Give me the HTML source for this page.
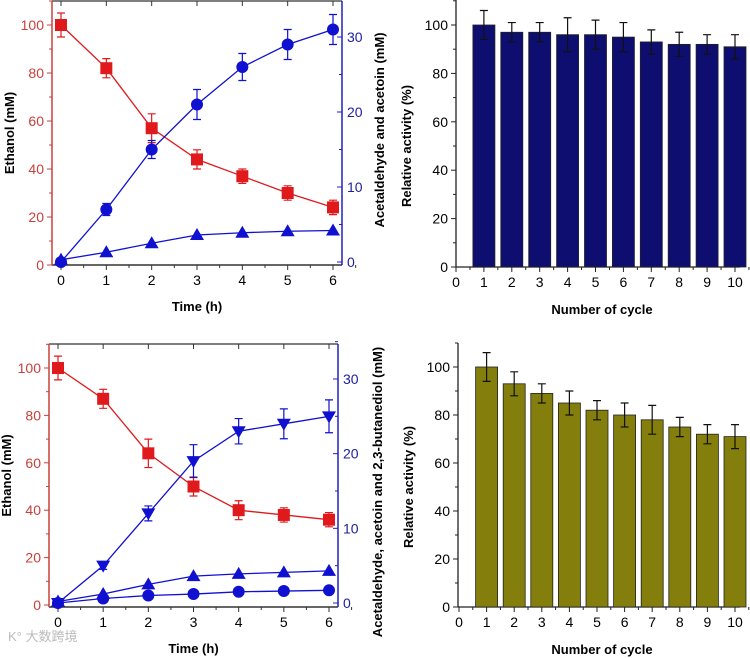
<!DOCTYPE html>
<html><head><meta charset="utf-8"><style>
body{margin:0;background:#fff;width:750px;height:658px;overflow:hidden}
svg{display:block;font-family:"Liberation Sans",Arial,sans-serif}
</style></head><body>
<svg id="s" width="750" height="658" viewBox="0 0 750 658">
<text x="-130" y="384" transform="rotate(-90)" font-size="13" font-weight="bold" text-anchor="middle">Acetaldehyde and acetoin (mM)</text>
<text x="-492" y="382" transform="rotate(-90)" font-size="13" font-weight="bold" text-anchor="middle">Acetaldehyde, acetoin and 2,3-butanediol (mM)</text>
<text x="8" y="641" font-size="13" fill="#bbb">K° 大数跨境</text>
</svg>
<script>
const times=[0,1,2,3,4,5,6];
const ethA=[100,82,57,44,37,30,24];
const ethAErr=[5,4,6,4,3,3,3];
const circA=[0,7,15,21,26,29,31];
const circAErr=[0.5,0.8,1.2,2,1.8,2,2];
const triA=[0.3,1.3,2.5,3.6,3.9,4.1,4.2];
const ethB=[100,87,64,50,40,38,36];
const ethBErr=[5,4,6,4,4,3,3];
const downB=[0,5,12,19,23,24,25];
const downBErr=[0.3,0.5,1,2.2,1.7,2,2.2];
const triB=[0.2,1.2,2.5,3.6,3.9,4.1,4.3];
const circB=[0,0.6,1,1.2,1.5,1.6,1.7];
const cycles=[1,2,3,4,5,6,7,8,9,10];
const actA=[100,97,97,96,96,95,93,92,92,91];
const actAErr=[6,4,4,7,6,6,5,5,4,5];
const actB=[100,93,89,85,82,80,78,75,72,71];
const actBErr=[6,5,4,5,4,5,6,4,4,5];

const S=document.getElementById('s');const NS='http://www.w3.org/2000/svg';
function el(t,a,txt){const e=document.createElementNS(NS,t);for(const k in a)e.setAttribute(k,a[k]);if(txt!==undefined)e.textContent=txt;S.appendChild(e);return e;}
const RED='#e0191c',BLUE='#1010d0';

function linePanel(o){
  const X=v=>o.x0+v*(o.x6-o.x0)/6, YL=v=>o.yl0-v*(o.yl0-o.yl100)/100, YR=v=>o.yr0-v*(o.yr0-o.yr30)/30;
  let f=el('line',{x1:o.L,y1:o.T,x2:o.R,y2:o.T,stroke:'#333','stroke-width':1.2});
  
  let b=el('line',{x1:o.L,y1:o.B,x2:o.R,y2:o.B,stroke:'#333','stroke-width':1.5});
  
  let l=el('line',{x1:o.L,y1:o.T,x2:o.L,y2:o.B,stroke:'#c8403c','stroke-width':1.5});
  
  let r=el('line',{x1:o.R,y1:o.T,x2:o.R,y2:o.B,stroke:'#2020c0','stroke-width':1.5});
  
  times.forEach(t=>{el('line',{x1:X(t),y1:o.B,x2:X(t),y2:o.B+5,stroke:'#333'});el('line',{x1:X(t),y1:o.T,x2:X(t),y2:o.T+5,stroke:'#333'});
    el('line',{x1:X(t+0.5),y1:o.B,x2:X(t+0.5),y2:o.B+3,stroke:'#333'});
    let tx=el('text',{x:X(t),y:o.B+20,'font-size':14,'text-anchor':'middle'},t);});
  for(let v=0;v<=100;v+=20){el('line',{x1:o.L-5,y1:YL(v),x2:o.L,y2:YL(v),stroke:'#c8403c'});el('line',{x1:o.L-3,y1:YL(v+10),x2:o.L,y2:YL(v+10),stroke:'#c8403c'});
    let tx=el('text',{x:o.L-8,y:YL(v)+5,'font-size':14,'text-anchor':'end',fill:'#c8403c'},v);}
  for(let v=0;v<=30;v+=10){el('line',{x1:o.R,y1:YR(v),x2:o.R-5,y2:YR(v),stroke:'#2020c0'});if(v<30||o.yr30-o.T>20)el('line',{x1:o.R,y1:YR(v+5),x2:o.R-3,y2:YR(v+5),stroke:'#2020c0'});
    let tx=el('text',{x:o.R+5,y:YR(v)+5,'font-size':14,fill:'#2020a0'},v);}
  let xt=el('text',{x:(o.L+o.R)/2,y:o.B+46,'font-size':13,'font-weight':'bold','text-anchor':'middle'},'Time (h)');
  
  let yt=el('text',{x:-(o.T+o.B)/2,y:o.L-38,transform:'rotate(-90)','font-size':13,'font-weight':'bold','text-anchor':'middle'},'Ethanol (mM)');
  
  o.series.forEach(s=>{const Y=s.left?YL:YR;
    let p=el('polyline',{points:s.v.map((v,i)=>X(times[i])+','+Y(v)).join(' '),fill:'none',stroke:s.c,'stroke-width':1.3});
    
    s.v.forEach((v,i)=>{const x=X(times[i]),y=Y(v);
      if(s.e){const e=s.e[i],y1=Y(v+e),y2=Y(v-e);el('path',{d:`M${x},${y1}V${y2}M${x-4},${y1}H${x+4}M${x-4},${y2}H${x+4}`,stroke:s.c,'stroke-width':1.2,fill:'none'});}
      let m;
      if(s.m==='sq')m=el('rect',{x:x-6,y:y-6,width:12,height:12,fill:s.c});
      else if(s.m==='ci')m=el('circle',{cx:x,cy:y,r:6,fill:s.c});
      else if(s.m==='up')m=el('polygon',{points:`${x},${y-7} ${x-7},${y+5} ${x+7},${y+5}`,fill:s.c});
      else m=el('polygon',{points:`${x},${y+7} ${x-7},${y-5} ${x+7},${y-5}`,fill:s.c});
      });});
}
linePanel({L:52,R:342,T:1,B:265,x0:61,x6:333,yl0:265,yl100:25,yr0:262,yr30:37,series:[
 {v:ethA,e:ethAErr,c:RED,m:'sq',left:1,name:'ethanol'},{v:circA,e:circAErr,c:BLUE,m:'ci',name:'acetaldehyde'},{v:triA,c:BLUE,m:'up',name:'acetoin'}]});
linePanel({L:49,R:338,T:344,B:607,x0:58,x6:329,yl0:605,yl100:368,yr0:603,yr30:379,series:[
 {v:ethB,e:ethBErr,c:RED,m:'sq',left:1,name:'ethanol'},{v:downB,e:downBErr,c:BLUE,m:'dn',name:'butanediol'},{v:triB,c:BLUE,m:'up',name:'acetoin'},{v:circB,c:BLUE,m:'ci',name:'acetaldehyde'}]});

function barPanel(o){
  const X=v=>o.x0+v*(o.x10-o.x0)/10, Y=v=>o.y0-v*(o.y0-o.y100)/100;
  let a=el('line',{x1:o.L,y1:o.T,x2:o.L,y2:o.y0,stroke:'#222','stroke-width':1.3});
  let b=el('line',{x1:o.L,y1:o.y0,x2:740,y2:o.y0,stroke:'#222','stroke-width':1.3});
  for(let v=0;v<=100;v+=20){el('line',{x1:o.L-5,y1:Y(v),x2:o.L,y2:Y(v),stroke:'#222'});el('line',{x1:o.L-3,y1:Y(v+10),x2:o.L,y2:Y(v+10),stroke:'#222'});
    let t=el('text',{x:o.L-8,y:Y(v)+5,'font-size':14,'text-anchor':'end'},v);}
  for(let c=0;c<=10;c++){el('line',{x1:X(c),y1:o.y0,x2:X(c),y2:o.y0+5,stroke:'#222'});el('line',{x1:X(c+0.5),y1:o.y0,x2:X(c+0.5),y2:o.y0+3,stroke:'#222'});
    let t=el('text',{x:X(c),y:o.y0+20,'font-size':14,'text-anchor':'middle'},c);}
  o.v.forEach((v,i)=>{const x=X(cycles[i]);
    let r=el('rect',{x:x-11,y:Y(v),width:22,height:o.y0-Y(v),fill:o.c,stroke:'#222','stroke-width':0.8});
    
    const y1=Y(v+o.e[i]),y2=Y(v-o.e[i]);
    let e=el('path',{d:`M${x},${y1}V${y2}M${x-4},${y1}H${x+4}M${x-4},${y2}H${x+4}`,stroke:'#111','stroke-width':1.2,fill:'none'});
    });
  let xt=el('text',{x:602,y:o.y0+47,'font-size':13,'font-weight':'bold','text-anchor':'middle'},'Number of cycle');
  
  let yt=el('text',{x:-(o.y0+o.y100)/2,y:o.L-45,transform:'rotate(-90)','font-size':13,'font-weight':'bold','text-anchor':'middle'},'Relative activity (%)');
  
}
barPanel({L:456,T:0,x0:456,x10:735,y0:267,y100:25,v:actA,e:actAErr,c:'#0e0e70'});
barPanel({L:458,T:343,x0:459,x10:735,y0:607,y100:367,v:actB,e:actBErr,c:'#847f0c'});
</script>
</body></html>
